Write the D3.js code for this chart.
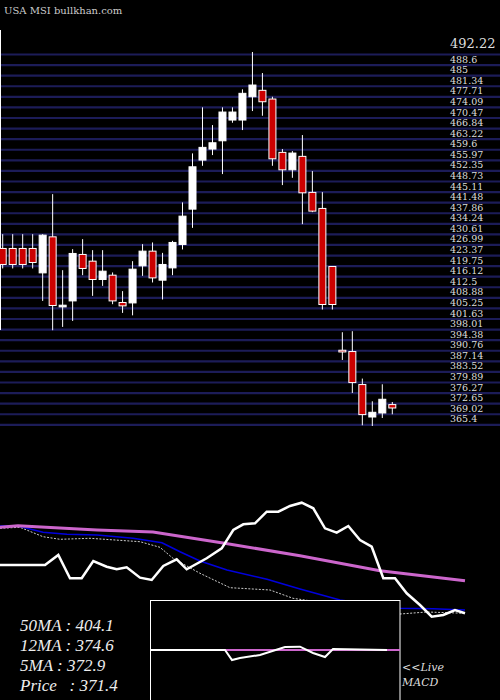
<!DOCTYPE html>
<html><head><meta charset="utf-8">
<script src="https://cdn.jsdelivr.net/npm/d3@7"></script>
<style>body{margin:0;background:#000}svg{display:block}</style>
</head><body>
<script>
// price candles
var opens  = [425.62,425.62,425.62,425.62,417.26,429.60,405.61,407.66,423.57,421.27,414.99,416.47,407.11,406.97,419.66,424.70,414.76,418.97,426.99,439.09,455.89,459.66,462.50,469.60,469.60,477.58,479.78,476.80,458.53,452.56,457.16,444.82,439.33,419.45,390.76,390.32,379.01,367.90,369.27,372.15];
var highs  = [430.52,430.52,430.52,430.52,430.52,444.23,418.18,425.38,428.81,425.04,425.04,417.40,411.01,421.27,427.10,427.68,424.11,428.23,441.39,458.18,473.95,467.88,473.95,473.95,480.12,492.91,485.71,477.58,459.66,458.97,464.46,452.12,444.92,419.45,396.93,397.28,381.06,373.28,379.11,373.04];
var lows   = [418.77,418.77,418.77,418.77,407.66,397.62,398.75,400.81,416.47,409.38,412.80,406.53,403.55,402.71,416.23,413.97,408.14,416.47,425.28,432.68,453.93,457.60,451.09,468.67,466.17,472.68,471.07,453.93,447.32,449.82,433.95,438.06,404.71,404.71,387.44,376.13,365.06,364.82,367.56,368.83];
var closes = [420.14,420.14,420.14,420.82,430.18,406.08,406.19,423.91,418.77,414.99,417.84,407.66,405.96,418.53,424.70,415.54,420.14,427.68,436.69,453.59,460.24,461.82,472.34,472.34,478.75,481.59,475.87,456.33,452.56,458.29,444.68,438.41,406.43,406.43,390.18,379.69,368.72,369.51,373.97,370.99];

var priceTicks = [492.22,488.6,485.0,481.34,477.71,474.09,470.47,466.84,463.22,459.6,455.97,452.35,448.73,445.11,441.48,437.86,434.24,430.61,426.99,423.37,419.75,416.12,412.5,408.88,405.25,401.63,398.01,394.38,390.76,387.14,383.52,379.89,376.27,372.65,369.02,365.4];

// indicator panel lines: x positions (px-ish units) and levels
var ma50X = [0,18,97,153,223,300,380,465];
var ma50V = [92.7,94.3,90,88,77,64.3,49.3,39.3];
var ma12X = [0,17,43,67,97,133,162,180,200,227,267,300,340,400,433,465];
var ma12V = [94,94.3,87.7,85.7,85,81.7,77.3,68.3,59,50,40.7,31,20,11.7,11.3,10];
var ma5X  = [0,20,43,60,90,140,160,173,200,230,270,293,400,427,465];
var ma5V  = [91.7,92.7,83.3,80.7,81.7,78.3,72.7,61.7,46.7,32.3,30,21.7,6,8,6.7];
var oscX  = [0,45,58.3,70,81.7,93.3,106.7,116.7,126.7,140,151.7,163.3,176.7,186.7,206.7,221.7,233.3,243.3,255,266.7,278.3,290,301.7,313.3,325,336.7,348.3,360,371.7,383.3,395,406.7,420,431.7,443.3,455,465];
var oscV  = [55,55,65,41.7,41.7,59,53.3,50.7,52.7,42.3,40,54,60.7,50.7,61.7,71.7,90,95.7,96.7,108.3,108.3,114,117.3,111.7,91.7,87.3,94,80,73.3,41.7,41.7,26.7,15,3.3,5,10,6.7];
var macdX = [150,225,232,240,260,285,300,313,325,333,387];
var macdV = [0,0,-10,-8,-5,3,3.3,-3,-7,1,0];
var legend = ["50MA : 404.1","12MA : 374.6","5MA : 372.9","Price   : 371.4"];

var W = 500, H = 700;
var svg = d3.select("body").append("svg").attr("width", W).attr("height", H)
	.style("background", "#000");

var y = d3.scaleLinear().domain([365.4, 492.22]).range([424.3, 54]);
var x = d3.scaleLinear().domain([0, opens.length - 1]).range([2.7, 392.3]);

// grid lines + labels
var axis = d3.axisRight(y).tickValues(priceTicks).tickSize(-W).tickFormat(d => d);
var g = svg.append("g").attr("transform", "translate(" + W + ",0)").call(axis);
g.select(".domain").remove();
g.selectAll(".tick line").attr("stroke", "#1c1c58").attr("stroke-width", 2.2);
g.selectAll(".tick text")
	.attr("x", -50).attr("dy", -2.5)
	.attr("fill", "#ddd").attr("font-family", "DejaVu Serif, serif").attr("font-size", 9.5);
g.selectAll(".tick").filter((d, i) => i == 0).select("text").attr("font-size", 13).attr("dy", -7);

svg.append("line").attr("x1", 0.5).attr("x2", 0.5).attr("y1", 30).attr("y2", 330)
	.attr("stroke", "#fff").attr("stroke-width", 1);

// candles
var idx = d3.range(opens.length);
svg.append("g").selectAll("line").data(idx).enter().append("line")
	.attr("x1", i => x(i)).attr("x2", i => x(i))
	.attr("y1", i => y(highs[i])).attr("y2", i => y(lows[i]))
	.attr("stroke", "#fff").attr("stroke-width", 1);
svg.append("g").selectAll("rect").data(idx).enter().append("rect")
	.attr("x", i => x(i) - 3.5).attr("width", 7)
	.attr("y", i => y(Math.max(opens[i], closes[i])))
	.attr("height", i => Math.max(1.5, Math.abs(y(opens[i]) - y(closes[i]))))
	.attr("fill", i => closes[i] < opens[i] ? "#cc0000" : "#fff")
	.attr("stroke", "#fff").attr("stroke-width", 1);

// indicator panel
var yi = d3.scaleLinear().domain([0, 120]).range([620, 500]);
function path(xs, vs) {
	return d3.line().x((d, i) => xs[i]).y(d => yi(d))(vs);
}
svg.append("path").attr("d", path(ma5X, ma5V)).attr("fill", "none")
	.attr("stroke", "#fff").attr("stroke-width", 0.8).attr("stroke-dasharray", "2,1.5");
svg.append("path").attr("d", path(ma12X, ma12V)).attr("fill", "none")
	.attr("stroke", "#0000dd").attr("stroke-width", 1.6);
svg.append("path").attr("d", path(ma50X, ma50V)).attr("fill", "none")
	.attr("stroke", "#cc66cc").attr("stroke-width", 3);
svg.append("path").attr("d", path(oscX, oscV)).attr("fill", "none")
	.attr("stroke", "#fff").attr("stroke-width", 2.5);

// MACD box
svg.append("rect").attr("x", 150.5).attr("y", 600.5).attr("width", 249.5).attr("height", 110)
	.attr("fill", "#000").attr("stroke", "#fff").attr("stroke-width", 1);
var ym = d3.scaleLinear().domain([-20, 20]).range([670, 630]);
svg.append("line").attr("x1", 151).attr("x2", 400).attr("y1", ym(0)).attr("y2", ym(0))
	.attr("stroke", "#cc66cc").attr("stroke-width", 2);
svg.append("path").attr("d", d3.line().x((d, i) => macdX[i]).y(d => ym(d))(macdV))
	.attr("fill", "none").attr("stroke", "#fff").attr("stroke-width", 2);
svg.append("text").attr("x", 402).attr("y", 671).text("<<Live")
	.attr("fill", "#ddd").attr("font-family", "DejaVu Serif, serif").attr("font-style", "italic").attr("font-size", 11);
svg.append("text").attr("x", 402).attr("y", 686).text("MACD")
	.attr("fill", "#ddd").attr("font-family", "DejaVu Serif, serif").attr("font-style", "italic").attr("font-size", 11);

// legend
svg.append("g").selectAll("text").data(legend).enter().append("text")
	.attr("x", 20).attr("y", (d, i) => 631 + i * 20).text(d => d)
	.attr("xml:space", "preserve").style("white-space", "pre")
	.attr("fill", "#eee").attr("font-family", "Liberation Serif, serif").attr("font-style", "italic").attr("font-size", 17);

svg.append("text").attr("x", 4).attr("y", 14).text("USA MSI bullkhan.com")
	.attr("fill", "#ccc").attr("font-family", "DejaVu Serif, serif").attr("font-size", 10);
</script>
</body></html>
